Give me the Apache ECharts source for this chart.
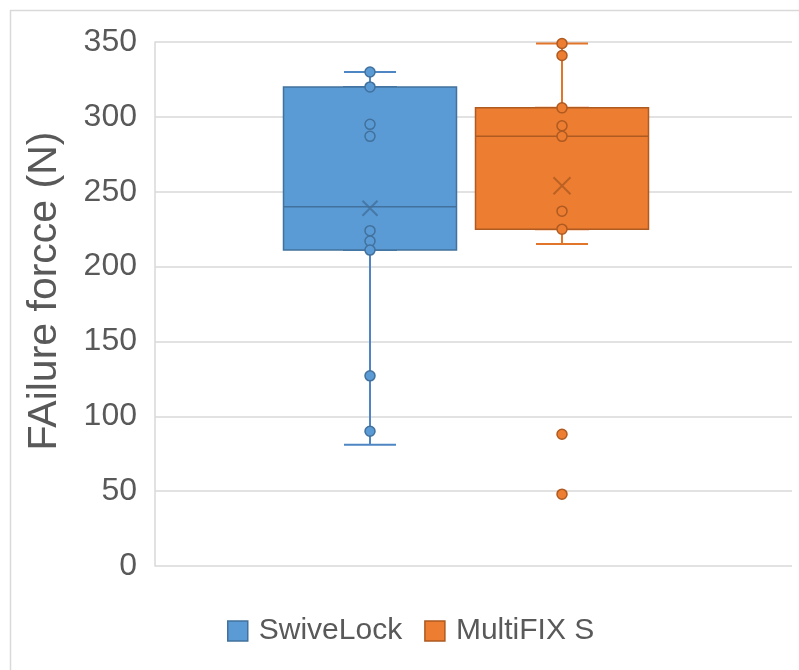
<!DOCTYPE html>
<html>
<head>
<meta charset="utf-8">
<script src="https://cdn.jsdelivr.net/npm/echarts@6/dist/echarts.min.js"></script>
<style>
  html, body { margin: 0; padding: 0; background: #fff; }
  #chart { width: 799px; height: 670px; }
</style>
</head>
<body>
<div id="chart"></div>
<script>
// ---- data ----
var categories = ['SwiveLock', 'MultiFIX S'];
var yTicks = [0, 50, 100, 150, 200, 250, 300, 350];
// [min, Q1, median, Q3, max]
var swiveLockBox = [81, 211, 240, 320, 330];
var multiFixBox = [215, 225, 287, 306, 349];
var swiveLockPoints = [330, 320, 295, 287, 224, 217, 211, 127, 90];
var multiFixPoints = [349, 341, 306, 294, 287, 237, 225];
var multiFixOutliers = [88, 48];
var means = [239, 254];

// ---- styles ----
var fills = ['#5B9BD5', '#ED7D31'];
var borders = ['#41719C', '#AE5A21'];
var whiskerCols = ['#4E86C3', '#E1752A'];
var xPath = 'path://M0,0L10,10M10,0L0,10';
var font = 'Liberation Sans, Arial, sans-serif';

var chart = echarts.init(document.getElementById('chart'));

function pointsData(cat, arr) { return arr.map(function (v) { return [cat, v]; }); }

var yCommon = { type: 'value', min: yTicks[0], max: yTicks[yTicks.length - 1], interval: 50 };

var option = {
  animation: false,
  graphic: [{
    type: 'rect', left: 8, top: 8, silent: true,
    shape: { width: 820, height: 700 },
    style: { fill: 'none', stroke: '#D9D9D9', lineWidth: 1.5 }
  }],
  legend: {
    data: categories.map(function (c, i) {
      return { name: c, itemStyle: { color: fills[i], borderColor: borders[i], borderWidth: 1.5 } };
    }),
    left: 222, top: 611,
    icon: 'rect', itemWidth: 20, itemHeight: 20, itemGap: 22,
    textStyle: { fontSize: 30, color: '#595959', fontFamily: font, padding: [0, 0, 0, 6] },
    selectedMode: false
  },
  grid: [
    { left: 155, right: 7, top: 42, bottom: 104 },
    { left: 274, width: 192, top: 42, bottom: 104 },
    { left: 466, width: 192, top: 42, bottom: 104 }
  ],
  xAxis: [
    { type: 'category', gridIndex: 0, data: [''], show: false },
    { type: 'category', gridIndex: 1, data: [categories[0]], show: false },
    { type: 'category', gridIndex: 1, data: [categories[0]], show: false },
    { type: 'category', gridIndex: 2, data: [categories[1]], show: false },
    { type: 'category', gridIndex: 2, data: [categories[1]], show: false }
  ],
  yAxis: [
    Object.assign({}, yCommon, {
      gridIndex: 0,
      name: 'FAilure forcce (N)',
      nameLocation: 'middle',
      nameGap: 90,
      nameTextStyle: { fontSize: 41, color: '#595959', fontFamily: font, padding: [0, 0, 0, 26] },
      axisLine: { show: true, lineStyle: { color: '#D9D9D9', width: 1.5 } },
      axisTick: { show: false },
      axisLabel: { fontSize: 32, color: '#595959', margin: 18, fontFamily: font },
      splitLine: { show: true, lineStyle: { color: '#D9D9D9', width: 1.5 } }
    }),
    Object.assign({}, yCommon, { gridIndex: 1, show: false, splitLine: { show: false } }),
    Object.assign({}, yCommon, { gridIndex: 2, show: false, splitLine: { show: false } })
  ],
  series: [
    {
      name: categories[0], type: 'boxplot', xAxisIndex: 1, yAxisIndex: 1, z: 3, silent: true,
      boxWidth: [173, 173],
      data: [[swiveLockBox[1], swiveLockBox[1], swiveLockBox[2], swiveLockBox[3], swiveLockBox[3]]],
      itemStyle: { color: fills[0], borderColor: borders[0], borderWidth: 1.5 }
    },
    {
      name: categories[1], type: 'boxplot', xAxisIndex: 3, yAxisIndex: 2, z: 3, silent: true,
      boxWidth: [173, 173],
      data: [[multiFixBox[1], multiFixBox[1], multiFixBox[2], multiFixBox[3], multiFixBox[3]]],
      itemStyle: { color: fills[1], borderColor: borders[1], borderWidth: 1.5 }
    },
    {
      name: 'w0', type: 'boxplot', xAxisIndex: 2, yAxisIndex: 1, z: 2, silent: true,
      boxWidth: [52, 52],
      data: [swiveLockBox],
      itemStyle: { color: 'none', borderColor: whiskerCols[0], borderWidth: 2 }
    },
    {
      name: 'w1', type: 'boxplot', xAxisIndex: 4, yAxisIndex: 2, z: 2, silent: true,
      boxWidth: [52, 52],
      data: [multiFixBox],
      itemStyle: { color: 'none', borderColor: whiskerCols[1], borderWidth: 2 }
    },
    {
      name: 'p0', type: 'scatter', xAxisIndex: 1, yAxisIndex: 1, z: 4, silent: true,
      symbolSize: 10, data: pointsData(categories[0], swiveLockPoints),
      itemStyle: { color: fills[0], borderColor: borders[0], borderWidth: 1.5, opacity: 1 }
    },
    {
      name: 'p1', type: 'scatter', xAxisIndex: 3, yAxisIndex: 2, z: 4, silent: true,
      symbolSize: 10, data: pointsData(categories[1], multiFixPoints.concat(multiFixOutliers)),
      itemStyle: { color: fills[1], borderColor: borders[1], borderWidth: 1.5, opacity: 1 }
    },
    {
      name: 'm0', type: 'scatter', xAxisIndex: 1, yAxisIndex: 1, z: 5, silent: true,
      symbol: xPath, symbolSize: 15, data: [[categories[0], means[0]]],
      itemStyle: { color: 'none', borderColor: borders[0], borderWidth: 2 }
    },
    {
      name: 'm1', type: 'scatter', xAxisIndex: 3, yAxisIndex: 2, z: 5, silent: true,
      symbol: xPath, symbolSize: 17, data: [[categories[1], means[1]]],
      itemStyle: { color: 'none', borderColor: borders[1], borderWidth: 2 }
    }
  ]
};
chart.setOption(option);
</script>
</body>
</html>
